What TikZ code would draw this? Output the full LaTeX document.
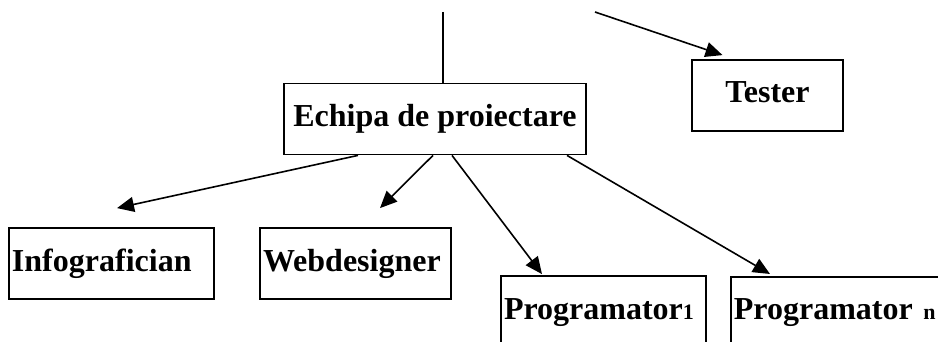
\documentclass[tikz,border=0pt]{standalone}
\usepackage{fontspec}
\setmainfont{Liberation Serif}
\usetikzlibrary{arrows.meta}

\newcommand{\rolefont}{\bfseries\fontsize{32}{36}\selectfont}
\newcommand{\idx}[1]{{\fontsize{22}{24}\selectfont #1}}

\tikzset{
	post/.style={draw, line width=1.8pt, minimum height=71pt, text height=22pt, text depth=7pt, inner xsep=3pt, inner ysep=0pt, font=\rolefont},
	postleft/.style={post, align=left},
	arr/.style={-{Triangle[length=17pt,width=15pt]}, line width=1.6pt},
	wire/.style={line width=1.6pt}
}

\begin{document}
\begin{tikzpicture}[x=1pt, y=-1pt]
	\useasboundingbox (0,0) rectangle (938,342);
	\clip (0,0) rectangle (938,342);
	% Boxes:
	\node[post, minimum width=302pt](Echipa) at (435, 119){Echipa de proiectare};
	\node[post, minimum width=151pt](Tester) at (767.5, 95.5){Tester};
	\node[postleft, text width=199pt](Info) at (111.5, 263.5){Infografician};
	\node[postleft, text width=185pt](Web) at (355.5, 263.5){Webdesigner};
	\node[postleft, text width=199pt](Prog1) at (603.5, 311.5){Programator\idx{1}};
	\node[postleft, text width=214pt, anchor=north west](ProgN) at (730, 276){Programator\idx{\ n}};
	% Free ends at the top:
	\coordinate (Up) at (443, 12);
	\coordinate (UpT) at (595, 12);
	% Connectors:
	\draw[wire] (Up) -- ([xshift=8pt]Echipa.north);
	\draw[arr] (UpT) -- ([xshift=-45pt, yshift=4pt]Tester.north);
	\draw[arr] ([xshift=-77pt]Echipa.south) -- ([xshift=5.5pt, yshift=19pt]Info.north);
	\draw[arr] ([xshift=-2pt]Echipa.south) -- ([xshift=24.5pt, yshift=19pt]Web.north);
	\draw[arr] ([xshift=17pt]Echipa.south) -- ([xshift=-61.5pt, yshift=1pt]Prog1.north);
	\draw[arr] ([xshift=132pt]Echipa.south) -- ([xshift=40pt, yshift=2pt]ProgN.north west);
\end{tikzpicture}
\end{document}
